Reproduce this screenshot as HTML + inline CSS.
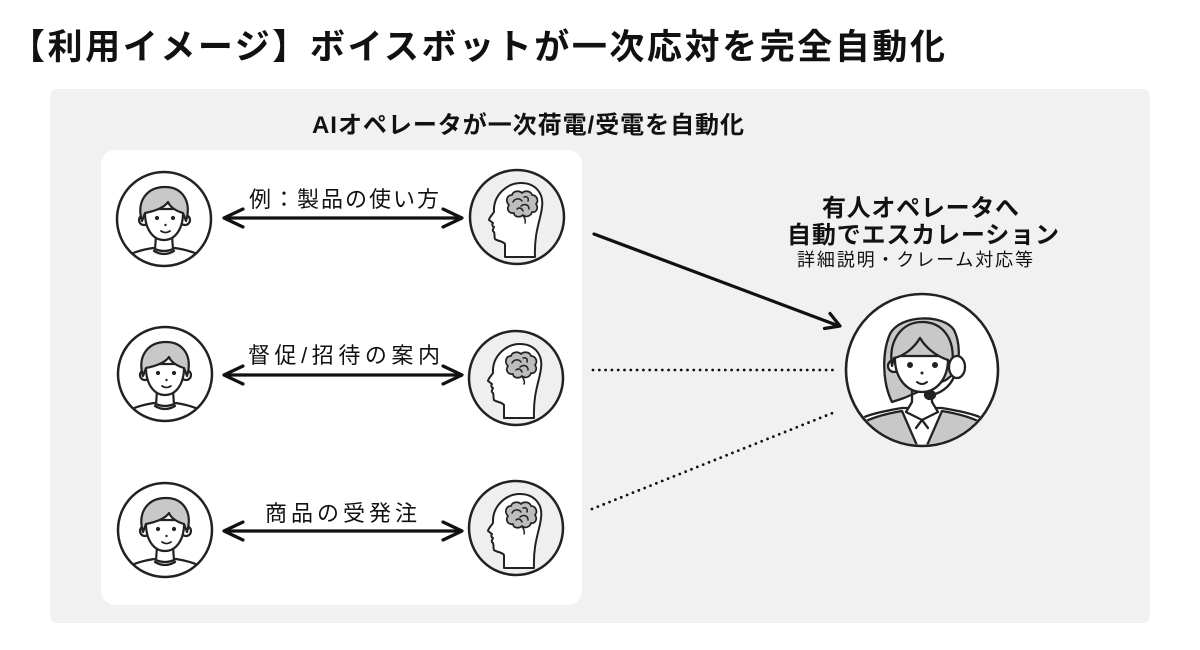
<!DOCTYPE html>
<html><head><meta charset="utf-8"><style>
html,body{margin:0;padding:0;background:#fff;}
svg{display:block;}
text{font-family:"Liberation Sans","Noto Sans CJK JP",sans-serif;fill:#111;}
</style></head><body>
<svg width="1200" height="650" viewBox="0 0 1200 650" xmlns="http://www.w3.org/2000/svg">
<defs>
  <clipPath id="c47"><circle cx="0" cy="0" r="46"/></clipPath>
  <clipPath id="c75"><circle cx="0" cy="0" r="74.5"/></clipPath>
  <g id="person">
    <circle cx="0" cy="0" r="47" fill="#fff"/>
    <g clip-path="url(#c47)" stroke="#222" stroke-width="2.2" stroke-linejoin="round" stroke-linecap="round">
      <path d="M-44 60 L-42 42 Q-36 33 -11 29 Q0 35 11 29 Q36 33 42 42 L44 60 Z" fill="#fff"/>
      <path d="M-10 32 Q0 38 10 32" fill="none"/>
      <line x1="-8" y1="17" x2="-9" y2="30"/>
      <line x1="8" y1="17" x2="9" y2="30"/>
      <circle cx="-20" cy="1" r="5" fill="#fff"/>
      <circle cx="21" cy="1" r="5" fill="#fff"/>
      <path d="M-19 -10 C-20 10 -11 21 0 21 C11 21 20 10 19 -10 Z" fill="#fff"/>
      <path d="M-22 2 C-28 -18 -17 -32 1 -32 C18 -32 28 -18 22 2 L19 -6 C12 -8 6 -12 4 -17 C0 -11 -9 -8 -19 -6 Z" fill="#c8c8c8"/>
      <circle cx="-7" cy="-1" r="2.1" fill="#222" stroke="none"/>
      <circle cx="9" cy="-1" r="2.1" fill="#222" stroke="none"/>
      <circle cx="1.5" cy="6" r="1.2" fill="#222" stroke="none"/>
      <path d="M-3 12 Q1.5 15 6 12" fill="none" stroke-width="1.8"/>
    </g>
    <circle cx="0" cy="0" r="47" fill="none" stroke="#222" stroke-width="2.5"/>
  </g>
  <g id="brain">
    <circle cx="0" cy="0" r="47" fill="#efefef"/>
    <g clip-path="url(#c47)" stroke="#222" stroke-width="2" stroke-linejoin="round" stroke-linecap="round">
      <path d="M-12 40 L-12 27 C-14 24 -20 24 -22 22 C-23 20 -22 17 -23 15 C-25 14 -24 12 -23 10 C-25 9 -25 7 -24 6 L-28 3 C-28 1 -25 -2 -23 -5 C-24 -22 -10 -34 4 -34 C18 -34 27 -24 25 -10 C24 2 17 14 18 40 Z" fill="#fff"/>
      <path d="M-8 -12 C-12 -16 -10 -22 -5 -22 C-4 -26 2 -27 5 -24 C8 -27 14 -26 15 -22 C20 -22 22 -16 19 -13 C22 -9 19 -4 15 -5 C14 -1 9 1 6 -2 C3 1 -3 0 -3 -4 C-8 -3 -11 -8 -8 -12 Z" fill="#bdbdbd" stroke-width="1.7"/>
      <path d="M-4 -15 C-2 -19 3 -19 5 -16 M4 -11 C8 -14 12 -12 12 -8 M0 -8 C2 -10 5 -9 6 -6 M7 -20 C10 -21 12 -19 11 -16" fill="none" stroke-width="1.5"/>
      <path d="M6 -2 C8 2 9 4 8 6" fill="none" stroke-width="1.5"/>
    </g>
    <circle cx="0" cy="0" r="47" fill="none" stroke="#222" stroke-width="2.5"/>
  </g>
</defs>

<!-- title -->
<text x="10" y="59" font-size="35" font-weight="700" textLength="935" lengthAdjust="spacing">【利用イメージ】ボイスボットが一次応対を完全自動化</text>

<!-- panels -->
<rect x="50" y="89" width="1100" height="534" rx="7" fill="#f1f1f1"/>
<rect x="101" y="150" width="481" height="455" rx="14" fill="#fff"/>

<text x="312" y="133" font-size="24" font-weight="700" textLength="432" lengthAdjust="spacing">AIオペレータが一次荷電/受電を自動化</text>

<!-- rows -->
<use href="#person" x="164" y="219"/>
<use href="#person" x="165" y="374"/>
<use href="#person" x="165" y="530"/>
<use href="#brain" x="517" y="217"/>
<use href="#brain" x="516" y="378"/>
<use href="#brain" x="516" y="528"/>

<g stroke="#111" stroke-width="3.2" fill="none" stroke-linecap="round" stroke-linejoin="round">
  <line x1="225" y1="218" x2="461" y2="218"/>
  <polyline points="243,209 224,218 243,227"/>
  <polyline points="443,209 462,218 443,227"/>
  <line x1="225" y1="375" x2="461" y2="375"/>
  <polyline points="243,366 224,375 243,384"/>
  <polyline points="443,366 462,375 443,384"/>
  <line x1="225" y1="531" x2="461" y2="531"/>
  <polyline points="243,522 224,531 243,540"/>
  <polyline points="443,522 462,531 443,540"/>
</g>

<text x="249" y="207" font-size="22" textLength="190" lengthAdjust="spacing">例：製品の使い方</text>
<text x="248" y="363" font-size="22" textLength="192" lengthAdjust="spacing">督促/招待の案内</text>
<text x="265" y="521" font-size="22" textLength="152" lengthAdjust="spacing">商品の受発注</text>

<!-- connectors -->
<g stroke="#111" stroke-width="3.2" fill="none" stroke-linecap="round" stroke-linejoin="round">
  <line x1="594" y1="234" x2="839" y2="326"/>
  <polyline points="830,313.5 840,326 824.5,328.5"/>
</g>
<g stroke="#111" stroke-width="2.8" fill="none" stroke-linecap="round" stroke-dasharray="0 6.3">
  <line x1="593" y1="370" x2="834" y2="370"/>
  <line x1="592" y1="509" x2="835" y2="412"/>
</g>

<!-- right text -->
<text x="822" y="216" font-size="24" font-weight="700" textLength="197" lengthAdjust="spacing">有人オペレータへ</text>
<text x="787" y="243" font-size="24" font-weight="700" textLength="272" lengthAdjust="spacing">自動でエスカレーション</text>
<text x="797" y="266" font-size="18" textLength="236" lengthAdjust="spacing">詳細説明・クレーム対応等</text>

<!-- operator -->
<g transform="translate(922,370)">
  <circle cx="0" cy="0" r="76" fill="#fff"/>
  <g clip-path="url(#c75)" stroke="#222" stroke-width="2.3" stroke-linejoin="round" stroke-linecap="round">
    <path d="M-30 32 C-40 12 -40 -18 -32 -36 C-22 -56 22 -56 32 -40 C38 -28 38 -12 34 2 L24 10 L-18 28 Z" fill="#c8c8c8"/>
    <path d="M-80 95 L-72 56 C-62 46 -44 42 -20 38 L20 38 C44 42 62 46 72 56 L80 95 Z" fill="#fff"/>
    <path d="M-60 95 L-58 52 C-46 46 -32 43 -20 41 L-3 80 L-3 95 Z" fill="#c8c8c8"/>
    <path d="M60 95 L58 52 C46 46 32 43 20 41 L3 80 L3 95 Z" fill="#c8c8c8"/>
    <line x1="-10" y1="18" x2="-10" y2="34"/>
    <line x1="10" y1="18" x2="10" y2="34"/>
    <path d="M-10 32 L-16 42 L0 50 L16 42 L10 32" fill="#fff"/>
    <line x1="0" y1="50" x2="-6" y2="58"/>
    <line x1="0" y1="50" x2="6" y2="58"/>
    <circle cx="-28" cy="-4" r="6" fill="#fff"/>
    <path d="M-27 -14 C-28 8 -15 22 0 22 C15 22 27 8 26 -14 Z" fill="#fff"/>
    <path d="M-30 -4 C-34 -30 -20 -48 0 -48 C20 -48 34 -32 30 -4 L26 -10 C14 -14 4 -22 -2 -32 C-8 -22 -18 -14 -28 -12 Z" fill="#c8c8c8"/>
    <circle cx="-12" cy="-5" r="3" fill="#222" stroke="none"/>
    <circle cx="13" cy="-5" r="3" fill="#222" stroke="none"/>
    <circle cx="0" cy="3" r="1.5" fill="#222" stroke="none"/>
    <path d="M-5 12 Q0 16 5 12" fill="none" stroke-width="2"/>
    <path d="M33 4 C30 14 22 22 10 25" fill="none" stroke-width="2.4"/>
    <ellipse cx="8" cy="25" rx="5" ry="4" fill="#222"/>
    <ellipse cx="35" cy="-3" rx="8" ry="11" fill="#fff"/>
  </g>
  <circle cx="0" cy="0" r="76" fill="none" stroke="#222" stroke-width="2.6"/>
</g>
</svg>
</body></html>
